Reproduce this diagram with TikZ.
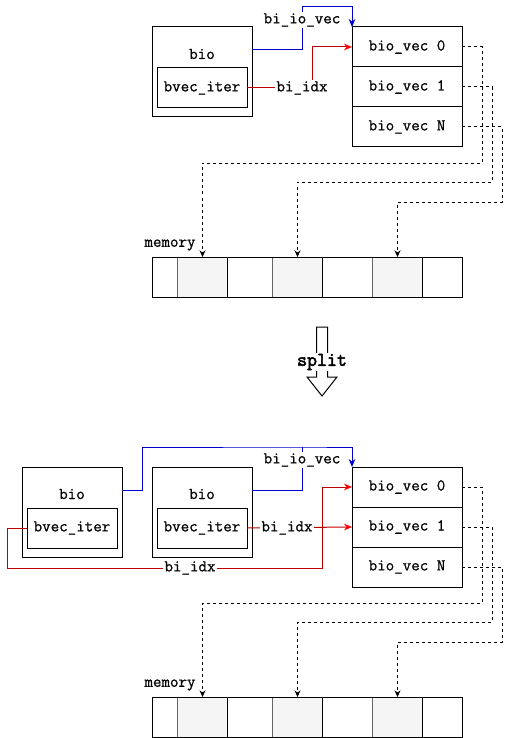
\documentclass[tikz,border=0pt]{standalone}
\usepackage{fontspec}
\newfontfamily\codefamily{Latin Modern Mono}[FakeBold=0.8]
\newfontfamily\splitfamily{Latin Modern Mono}[FakeBold=2.6]
\usetikzlibrary{positioning,arrows.meta}
\definecolor{IoBlue}{HTML}{0000CC}
\definecolor{IdxRed}{HTML}{C00000}
\definecolor{TipRed}{HTML}{FF0000}
\definecolor{PageFill}{HTML}{F5F5F5}
\definecolor{PageLine}{HTML}{666666}
\newcommand\codefont{\codefamily\fontsize{12.4}{14}\selectfont}
\tikzset{
  bio box/.style={draw,line width=.75pt,minimum width=75pt,minimum height=67.5pt,
    outer sep=0pt,inner sep=0pt},
  iter box/.style={draw,line width=.75pt,minimum width=67.5pt,minimum height=30pt,
    outer sep=0pt,inner sep=0pt,font=\codefont},
  vec cell/.style={draw,line width=.75pt,minimum width=82.5pt,minimum height=30pt,
    outer sep=0pt,inner sep=0pt,font=\codefont},
  mem cell/.style={draw,line width=.75pt,minimum height=30pt,outer sep=0pt,inner sep=0pt},
  mem page/.style={mem cell,draw=PageLine,fill=PageFill,minimum width=37.5pt},
  code label/.style={font=\codefont,fill=white,inner sep=1pt},
  io line/.style={draw=IoBlue,line width=.75pt},
  io arrow/.style={io line,-{Stealth[length=6pt,width=5pt]}},
  idx arrow/.style={draw=IdxRed,line width=.75pt,-{Stealth[length=6pt,width=5pt,color=TipRed]}},
  mem arrow/.style={draw,line width=.75pt,dash pattern=on 2.25pt off 2.25pt,
    -{Stealth[length=5pt,width=4.5pt]}}
}

\begin{document}
\begin{tikzpicture}[x=.75pt,y=-.75pt]
  \useasboundingbox (0,0) rectangle (511,738);

  % before split
  \node[bio box] (bio) at (202,72) {};
  \node[font=\codefont] (biotxt) at (202,54) {bio};
  \node[iter box] (iter) at (202,88) {bvec\_iter};
  \node[vec cell] (v0) at (407,47) {bio\_vec 0};
  \node[vec cell,below=0pt of v0] (v1) {bio\_vec 1};
  \node[vec cell,below=0pt of v1] (v2) {bio\_vec N};

  \node[mem cell,minimum width=18.75pt] (m1) at (165,277) {};
  \node[mem page,right=0pt of m1] (m2) {};
  \node[mem cell,minimum width=33.75pt,right=0pt of m2] (m3) {};
  \node[mem page,right=0pt of m3] (m4) {};
  \node[mem cell,minimum width=37.5pt,right=0pt of m4] (m5) {};
  \node[mem page,right=0pt of m5] (m6) {};
  \node[mem cell,minimum width=30pt,right=0pt of m6] (m7) {};
  \draw[line width=.75pt] (m1.north west) rectangle (m7.south east);
  \node[font=\codefont] (memtxt) at (170,245) {memory};

  \coordinate (iotop) at (302,7);
  \draw[io arrow] ([yshift=16.5pt]bio.east) -| (iotop) -| (v0.north west);
  \draw[idx arrow] (iter.east) -| ([xshift=-30pt]v0.west) -- (v0.west);
  \draw[mem arrow] (v0.east) -- ++(20,0) -- ++(0,116) -| (m2.north);
  \draw[mem arrow] (v1.east) -- ++(30,0) -- ++(0,95) -| (m4.north);
  \draw[mem arrow] (v2.east) -- ++(40,0) -- ++(0,75) -| (m6.north);
  \node[code label] (iotxt) at (302,20) {bi\_io\_vec};
  \node[code label] (idxtxt) at (302,88) {bi\_idx};

  % split
  \draw[line width=.75pt] (316.5,327) -- (316.5,377) -- (307,377) -- (322,396)
    -- (337,377) -- (327.5,377) -- (327.5,327) -- cycle;
  \node[fill=white,inner sep=1pt,font=\splitfamily\fontsize{14.5}{16}\selectfont]
    (splittxt) at (322,362) {split};

  % after split
  \node[bio box] (bioa) at (72,512) {};
  \node[font=\codefont] (bioatxt) at (72,494) {bio};
  \node[iter box] (itera) at (72,528) {bvec\_iter};
  \node[bio box] (biob) at (202,512) {};
  \node[font=\codefont] (biobtxt) at (202,494) {bio};
  \node[iter box] (iterb) at (202,528) {bvec\_iter};
  \node[vec cell] (w0) at (407,487) {bio\_vec 0};
  \node[vec cell,below=0pt of w0] (w1) {bio\_vec 1};
  \node[vec cell,below=0pt of w1] (w2) {bio\_vec N};

  \node[mem cell,minimum width=18.75pt] (n1) at (165,717) {};
  \node[mem page,right=0pt of n1] (n2) {};
  \node[mem cell,minimum width=33.75pt,right=0pt of n2] (n3) {};
  \node[mem page,right=0pt of n3] (n4) {};
  \node[mem cell,minimum width=37.5pt,right=0pt of n4] (n5) {};
  \node[mem page,right=0pt of n5] (n6) {};
  \node[mem cell,minimum width=30pt,right=0pt of n6] (n7) {};
  \draw[line width=.75pt] (n1.north west) rectangle (n7.south east);
  \node[font=\codefont] (memtxtb) at (170,685) {memory};

  \coordinate (iotopb) at (302,447);
  \draw[io arrow] ([yshift=16.5pt]bioa.east) -- ++(20,0) |- (iotopb) -| (w0.north west);
  \draw[io line] ([yshift=16.5pt]biob.east) -| (iotopb);
  \draw[idx arrow] (iterb.east) -- (w1.west);
  \draw[idx arrow] (itera.west) -- ++(-20,0) -- ++(0,40) -| ([xshift=-22.5pt]w0.west) -- (w0.west);
  \draw[mem arrow] (w0.east) -- ++(20,0) -- ++(0,116) -| (n2.north);
  \draw[mem arrow] (w1.east) -- ++(30,0) -- ++(0,95) -| (n4.north);
  \draw[mem arrow] (w2.east) -- ++(40,0) -- ++(0,75) -| (n6.north);
  \node[code label] (iotxtb) at (302,460) {bi\_io\_vec};
  \node[code label] (idxtxtb) at (287,528) {bi\_idx};
  \node[code label] (idxtxta) at (190,568) {bi\_idx};
\end{tikzpicture}
\end{document}
